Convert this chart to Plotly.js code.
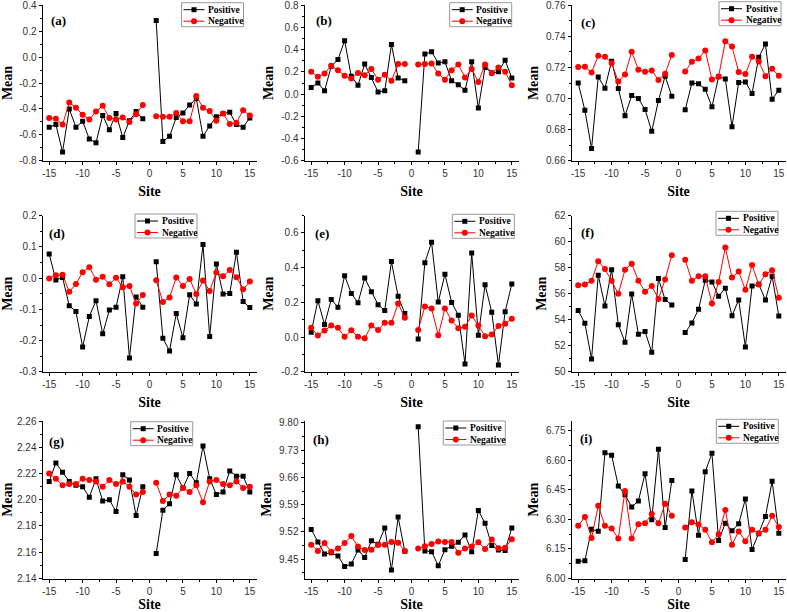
<!DOCTYPE html>
<html>
<head>
<meta charset="utf-8">
<script src="https://cdn.plot.ly/plotly-3.0.1.min.js"></script>
<style>html,body{margin:0;padding:0;background:#fff;}#chart{width:787px;height:612px;}#dbg{position:absolute;left:270px;top:200px;width:510px;font:9px monospace;z-index:10;white-space:pre-wrap;}</style>
</head>
<body>
<div id="chart"></div>
<div id="dbg"></div>
<script>
// ---------------- data ----------------
const sites = [-15,-14,-13,-12,-11,-10,-9,-8,-7,-6,-5,-4,-3,-2,-1,1,2,3,4,5,6,7,8,9,10,11,12,13,14,15];
const siteTicks = [-15,-10,-5,0,5,10,15];
const panelLabels = ['(a)','(b)','(c)','(d)','(e)','(f)','(g)','(h)','(i)'];
const seriesNames = ['Positive','Negative'];

const aPos = [-0.54,-0.52,-0.73,-0.40,-0.54,-0.495,-0.63,-0.66,-0.45,-0.56,-0.435,-0.62,-0.49,-0.42,-0.475, 0.28,-0.65,-0.61,-0.465,-0.43,-0.37,-0.32,-0.61,-0.53,-0.46,-0.435,-0.425,-0.52,-0.54,-0.47];
const aNeg = [-0.47,-0.475,-0.52,-0.35,-0.39,-0.445,-0.48,-0.42,-0.375,-0.47,-0.48,-0.465,-0.50,-0.44,-0.37, -0.455,-0.46,-0.46,-0.43,-0.495,-0.495,-0.30,-0.39,-0.415,-0.49,-0.435,-0.515,-0.505,-0.41,-0.45];
const aTicks = [-0.8,-0.6,-0.4,-0.2,0.0,0.2,0.4];

const bPos = [0.06,0.10,0.03,0.25,0.31,0.48,0.16,0.08,0.27,0.15,0.02,0.03,0.445,0.145,0.12, -0.52,0.36,0.38,0.28,0.29,0.12,0.085,0.035,0.29,-0.125,0.24,0.19,0.20,0.305,0.145];
const bNeg = [0.20,0.155,0.185,0.255,0.215,0.165,0.14,0.19,0.17,0.225,0.13,0.175,0.12,0.27,0.27, 0.265,0.27,0.275,0.185,0.13,0.215,0.265,0.15,0.225,0.11,0.265,0.19,0.24,0.20,0.08];
const bTicks = [-0.6,-0.4,-0.2,0.0,0.2,0.4,0.6,0.8];

const cPos = [0.710,0.6925,0.668,0.7138,0.7067,0.724,0.7065,0.689,0.702,0.700,0.693,0.679,0.6988,0.7144,0.7015, 0.6928,0.710,0.7095,0.706,0.6947,0.714,0.7125,0.682,0.7103,0.7107,0.7033,0.7265,0.735,0.6996,0.7054];
const cNeg = [0.7202,0.7204,0.7167,0.7275,0.7268,0.7227,0.711,0.7155,0.730,0.7185,0.7172,0.718,0.712,0.716,0.7279, 0.7174,0.7236,0.7257,0.7309,0.7122,0.7142,0.7367,0.7334,0.717,0.7157,0.7268,0.7238,0.7144,0.7191,0.7146];
const cTicks = [0.66,0.68,0.70,0.72,0.74,0.76];

const dPos = [0.077,-0.006,0.002,-0.088,-0.107,-0.22,-0.123,-0.072,-0.178,-0.102,-0.093,0.004,-0.255,-0.06,-0.093, 0.052,-0.192,-0.233,-0.113,-0.191,-0.053,-0.083,0.107,-0.187,0.045,-0.051,-0.049,0.083,-0.075,-0.094];
const dNeg = [-0.001,0.009,0.011,-0.044,-0.019,0.019,0.035,-0.005,0.004,-0.02,0.001,-0.029,-0.025,-0.081,-0.054, -0.007,-0.076,-0.062,0.002,-0.025,-0.003,-0.051,-0.008,-0.041,0.018,0.006,0.026,0.003,-0.036,-0.011];
const dTicks = [-0.3,-0.2,-0.1,0.0,0.1,0.2];

const ePos = [0.029,0.21,0.073,0.217,0.173,0.354,0.252,0.198,0.34,0.262,0.187,0.154,0.435,0.235,0.137, -0.01,0.429,0.546,0.202,0.362,0.20,0.127,-0.154,0.485,0.012,0.302,0.144,-0.16,0.146,0.306];
const eNeg = [0.054,0.01,0.038,0.067,0.054,0.002,0.04,0.002,-0.006,0.067,0.042,0.083,0.083,0.194,0.112, 0.042,0.177,0.165,0.012,0.165,0.096,0.052,0.06,0.125,0.067,0.006,0.015,0.065,0.077,0.106];
const eTicks = [-0.2,0.0,0.2,0.4,0.6];

const fPos = [54.71,53.74,51.0,57.42,55.07,57.85,53.63,52.28,55.99,52.89,53.1,51.51,57.16,55.55,55.14, 53.02,53.76,54.81,57.04,56.91,55.81,56.42,54.32,55.53,51.92,56.6,56.73,55.53,57.34,54.3];
const fNeg = [56.65,56.7,57.0,58.5,57.9,57.0,56.0,57.85,58.3,57.0,56.15,56.6,55.6,57.1,58.95, 58.6,57.0,57.35,57.35,55.25,56.9,59.55,57.25,57.7,56.3,58.2,56.7,57.5,57.8,55.7];
const fTicks = [50,52,54,56,58,60,62];

const gPos = [2.214,2.228,2.221,2.214,2.211,2.210,2.202,2.216,2.199,2.200,2.191,2.219,2.215,2.188,2.210, 2.159,2.192,2.197,2.219,2.209,2.220,2.213,2.241,2.216,2.204,2.206,2.222,2.218,2.218,2.206];
const gNeg = [2.220,2.216,2.211,2.212,2.212,2.216,2.215,2.214,2.210,2.215,2.212,2.214,2.210,2.204,2.206, 2.213,2.199,2.204,2.203,2.209,2.206,2.211,2.198,2.214,2.215,2.212,2.211,2.214,2.209,2.210];
const gTicks = [2.14,2.16,2.18,2.20,2.22,2.24,2.26];

const hPos = [9.526,9.494,9.463,9.466,9.458,9.431,9.437,9.473,9.454,9.497,9.488,9.53,9.422,9.558,9.47, 9.79,9.471,9.469,9.433,9.474,9.483,9.493,9.512,9.469,9.575,9.542,9.485,9.473,9.472,9.53];
const hNeg = [9.487,9.471,9.491,9.469,9.477,9.491,9.509,9.482,9.473,9.474,9.486,9.487,9.494,9.492,9.471, 9.477,9.483,9.489,9.495,9.494,9.494,9.466,9.477,9.482,9.493,9.476,9.5,9.478,9.479,9.501];
const hTicks = [9.45,9.52,9.59,9.66,9.73,9.80];

const iPos = [6.087,6.09,6.25,6.24,6.639,6.626,6.47,6.426,6.363,6.394,6.532,6.298,6.656,6.259,6.498, 6.097,6.445,6.22,6.542,6.636,6.193,6.28,6.242,6.278,6.404,6.147,6.227,6.315,6.494,6.23];
const iNeg = [6.268,6.312,6.206,6.37,6.268,6.254,6.203,6.445,6.203,6.276,6.28,6.327,6.28,6.38,6.319, 6.259,6.286,6.274,6.247,6.184,6.225,6.348,6.172,6.239,6.189,6.247,6.23,6.247,6.319,6.262];
const iTicks = [6.00,6.15,6.30,6.45,6.60,6.75];

// ---------------- layout configuration ----------------
const W = 787, H = 612;
const px = v => v / W;
const py = v => 1 - v / H;
const colX = [[42.5, 256.5], [304.5, 518.5], [571.5, 785.5]];
const rowY = [[5, 161], [215.5, 372], [421, 578.5]];

const panels = [
  {pos: aPos, neg: aNeg, ticks: aTicks, range: [-0.8, 0.4], dec: 1, leg: [181.5, 2.7], lab: [58.7, 20.7]},
  {pos: bPos, neg: bNeg, ticks: bTicks, range: [-0.6, 0.8], dec: 1, leg: [449.7, 2.7], lab: [323.7, 20.7]},
  {pos: cPos, neg: cNeg, ticks: cTicks, range: [0.66, 0.76], dec: 2, leg: [719, 1.7], lab: [588, 22.7]},
  {pos: dPos, neg: dNeg, ticks: dTicks, range: [-0.3, 0.2], dec: 1, leg: [135, 214], lab: [56.7, 233.3]},
  {pos: ePos, neg: eNeg, ticks: eTicks, range: [-0.2, 0.7], dec: 1, leg: [452.3, 214.3], lab: [322, 233.3]},
  {pos: fPos, neg: fNeg, ticks: fTicks, range: [50, 62], dec: 0, leg: [716, 211.3], lab: [587.5, 232.7]},
  {pos: gPos, neg: gNeg, ticks: gTicks, range: [2.14, 2.26], dec: 2, leg: [130.7, 421.7], lab: [56, 441]},
  {pos: hPos, neg: hNeg, ticks: hTicks, range: [9.40, 9.805], dec: 2, leg: [443.3, 421], lab: [320.7, 439.7]},
  {pos: iPos, neg: iNeg, ticks: iTicks, range: [6.0, 6.80], dec: 2, leg: [716.3, 419.3], lab: [586.3, 438.3]}
];

const tickFont = {family: 'Liberation Sans, Arial, sans-serif', size: 10, color: '#333'};
const titleFont = {family: 'Liberation Serif, Times New Roman, serif', size: 14, color: '#000', weight: 'bold'};
const legFont = {family: 'Liberation Serif, Times New Roman, serif', size: 9.5, color: '#000', weight: 'bold'};

function withGap(arr) { return arr.slice(0, 15).concat([null], arr.slice(15)); }
const xs = sites.slice(0, 15).concat([0], sites.slice(15));

function minorVals(ticks, range) {
  const step = ticks[1] - ticks[0];
  const out = [];
  for (let k = -1; k < ticks.length; k++) {
    const v = ticks[0] + (k + 0.5) * step;
    if (v >= range[0] - 1e-9 && v <= range[1] + 1e-9) out.push(+v.toFixed(6));
  }
  return out;
}
function fmt(v, d) { return v.toFixed(d); }
function padRange(r) { const e = (r[1] - r[0]) * 1e-4; return [r[0] - e, r[1] + e]; }

const data = [];
const layout = {
  width: W, height: H,
  margin: {l: 0, r: 0, t: 0, b: 0},
  paper_bgcolor: '#fff', plot_bgcolor: '#fff',
  showlegend: false,
  annotations: [], shapes: []
};

panels.forEach((p, i) => {
  const n = i === 0 ? '' : String(i + 1);
  const xa = 'x' + n, ya = 'y' + n;
  const col = i % 3, row = Math.floor(i / 3);
  data.push({
    type: 'scatter', mode: 'lines+markers', name: seriesNames[0],
    x: xs, y: withGap(p.pos), xaxis: xa, yaxis: ya, connectgaps: false,
    line: {color: '#000', width: 1},
    marker: {symbol: 'square', size: 5, color: '#000'}
  });
  data.push({
    type: 'scatter', mode: 'lines+markers', name: seriesNames[1],
    x: xs, y: withGap(p.neg), xaxis: xa, yaxis: ya, connectgaps: false,
    line: {color: '#ff0000', width: 1},
    marker: {symbol: 'circle', size: 6, color: '#ff0000'}
  });
  const common = {
    showline: true, linecolor: '#000', linewidth: 1, mirror: false,
    showgrid: false, zeroline: false, ticks: 'outside', ticklen: 3, tickwidth: 1, tickcolor: '#000',
    tickfont: tickFont, automargin: false, fixedrange: true, ticklabeloverflow: 'allow'
  };
  layout['xaxis' + n] = Object.assign({}, common, {
    domain: [px(colX[col][0]), px(colX[col][1])], anchor: ya, range: [-16, 16],
    tickmode: 'array', tickvals: siteTicks, ticktext: siteTicks.map(String),
    minor: {ticks: 'outside', ticklen: 2, tickcolor: '#000', tickmode: 'array', tickvals: minorVals(siteTicks, [-16, 16])},
    title: {text: 'Site', font: titleFont, standoff: 8}
  });
  layout['yaxis' + n] = Object.assign({}, common, {
    domain: [py(rowY[row][1]), py(rowY[row][0])], anchor: xa, range: padRange(p.range),
    tickmode: 'array', tickvals: p.ticks, ticktext: p.ticks.map(v => fmt(v, p.dec)),
    minor: {ticks: 'outside', ticklen: 2, tickcolor: '#000', tickmode: 'array', tickvals: minorVals(p.ticks, p.range)},
    title: {text: 'Mean', font: titleFont, standoff: 4}
  });
  layout.annotations.push({
    xref: 'paper', yref: 'paper', x: px(p.lab[0]), y: py(p.lab[1]),
    xanchor: 'center', yanchor: 'middle', showarrow: false,
    text: panelLabels[i], font: {family: 'Liberation Serif, Times New Roman, serif', size: 13, color: '#000', weight: 'bold'}
  });
  const bx = p.leg[0], by = p.leg[1], bw = 62, bh = 24;
  layout.shapes.push({type: 'rect', xref: 'paper', yref: 'paper',
    x0: px(bx), x1: px(bx + bw), y0: py(by + bh), y1: py(by),
    line: {color: '#999', width: 1}, fillcolor: '#fff'});
  const rows = [{y: by + 7, c: '#000', sym: 'rect', s: 5}, {y: by + 18.5, c: '#ff0000', sym: 'circle', s: 6}];
  rows.forEach((r, k) => {
    layout.shapes.push({type: 'line', xref: 'paper', yref: 'paper',
      x0: px(bx + 2), x1: px(bx + 23), y0: py(r.y), y1: py(r.y), line: {color: r.c, width: 1}});
    layout.shapes.push({type: r.sym, xref: 'paper', yref: 'paper',
      x0: px(bx + 12.5 - r.s / 2), x1: px(bx + 12.5 + r.s / 2), y0: py(r.y + r.s / 2), y1: py(r.y - r.s / 2),
      line: {color: r.c, width: 0}, fillcolor: r.c});
    layout.annotations.push({xref: 'paper', yref: 'paper', x: px(bx + 24.5), y: py(r.y),
      xanchor: 'left', yanchor: 'middle', showarrow: false, text: seriesNames[k], font: legFont});
  });
});

Plotly.newPlot('chart', data, layout, {staticPlot: true, displayModeBar: false}).then(gd => {
  // make sure no axis tick label is left hidden
  gd.querySelectorAll('g[class$="tick"] text').forEach(t => {
    t.removeAttribute('display'); t.style.display = ''; t.style.opacity = 1;
  });
  // diagnostic only if top labels of (a)/(d) are still absent
  let out = '';
  [['ytick', '0.4'], ['y4tick', '0.2']].forEach(([cls, txt]) => {
    const found = [...gd.querySelectorAll('g.' + cls + ' text')].filter(t => t.textContent === txt);
    if (!found.length) { out += cls + ' ' + txt + ' ABSENT; have ' + [...gd.querySelectorAll('g.' + cls + ' text')].map(t => t.textContent).join('|') + '\n'; return; }
    const b = found[0].getBoundingClientRect();
    if (b.width < 1) out += cls + ' ' + txt + ' zero bbox\n';
  });
  document.getElementById('dbg').textContent = out;
});
</script>
</body>
</html>
